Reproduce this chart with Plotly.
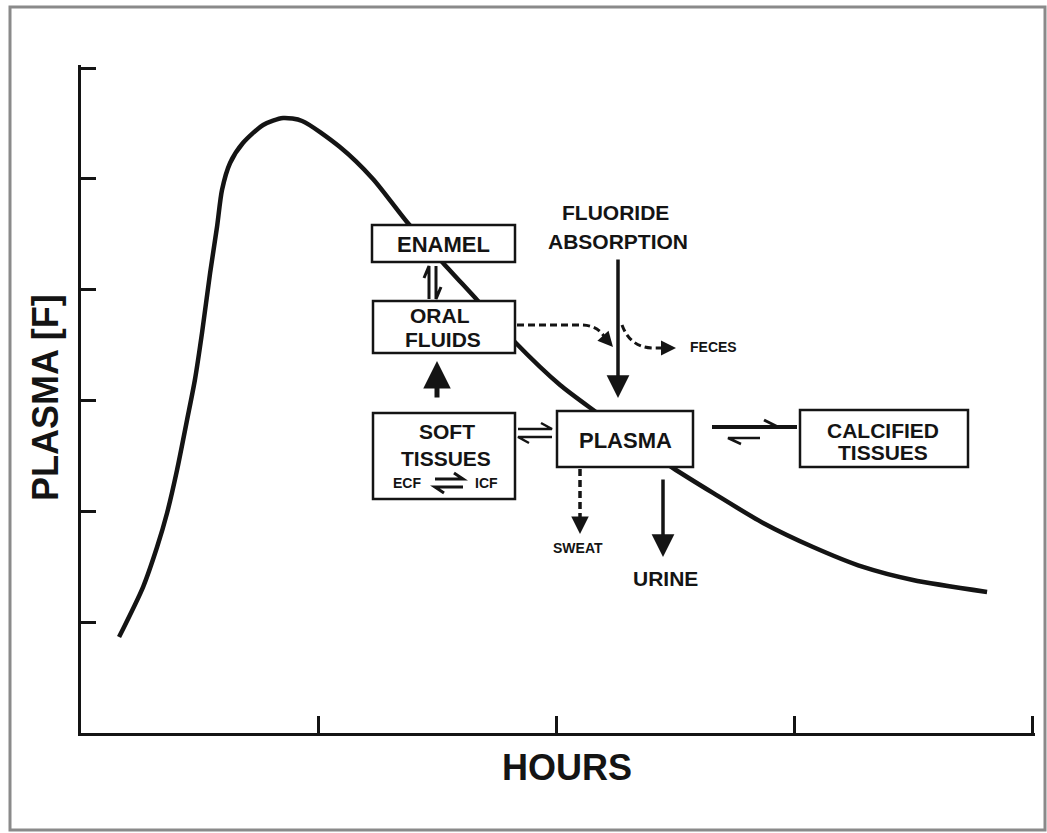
import plotly.graph_objects as go

# ---- data ----
hours = [0.160, 0.261, 0.320, 0.362, 0.404, 0.446, 0.479, 0.509, 0.543, 0.572, 0.593,
         0.627, 0.681, 0.766, 0.850, 0.930, 1.089, 1.228, 1.371, 1.523, 1.666, 1.825,
         2.015, 2.183, 2.351, 2.490, 2.658, 2.869, 3.079, 3.289, 3.499, 3.811]
plasma_f = [0.866, 1.317, 1.678, 1.985, 2.373, 2.824, 3.185, 3.609, 4.150, 4.565, 4.899,
            5.143, 5.323, 5.486, 5.549, 5.522, 5.287, 4.999, 4.611, 4.241, 3.907, 3.528,
            3.140, 2.869, 2.599, 2.391, 2.166, 1.895, 1.678, 1.498, 1.380, 1.272]
x_ticks = [1, 2, 3, 4]
y_ticks = [1, 2, 3, 4, 5, 6]
x_title = "HOURS"
y_title = "PLASMA [F]"

# ---- layout geometry ----
W, H = 1047, 833
L, R, T, B = 81, 1032, 68, 733          # pixel positions of x=0..4, y=0..6
RP, TP = 1035, 65                         # plot-area edges (a little beyond the end ticks)
XMAX, YMAX = 4, 6
X_END = XMAX * (RP - L) / (R - L)
Y_END = YMAX * (B - TP) / (B - T)


def X(px):
    return (px - L) / (R - L) * XMAX


def Y(py):
    return (B - py) / (B - T) * YMAX


def PX(px):
    return (px - L) / (RP - L)


def PY(py):
    return (B - py) / (B - TP)


FONT = "Liberation Sans, Arial, Helvetica, sans-serif"
INK = "#141414"

fig = go.Figure()
fig.add_trace(go.Scatter(x=hours, y=plasma_f, mode="lines",
                         line=dict(color=INK, width=4.5, shape="spline", smoothing=0.7),
                         hoverinfo="skip", showlegend=False))

shapes = []
annotations = []

# outer frame
shapes.append(dict(type="rect", xref="paper", yref="paper",
                   x0=PX(10), x1=PX(1045), y0=PY(830), y1=PY(7),
                   line=dict(color="#8a8a8a", width=3), layer="below"))


def box(x0, y0, x1, y1):
    shapes.append(dict(type="rect", x0=X(x0), x1=X(x1), y0=Y(y1), y1=Y(y0),
                       line=dict(color=INK, width=2.5), fillcolor="white", layer="above"))


def text(t, x, y, size=23, bold=True, angle=0, paper=False):
    annotations.append(dict(text=t,
                            x=PX(x) if paper else X(x), y=PY(y) if paper else Y(y),
                            xref="paper" if paper else "x", yref="paper" if paper else "y",
                            showarrow=False, textangle=angle,
                            font=dict(family=FONT, size=size, color=INK,
                                      weight="bold" if bold else "normal"),
                            xanchor="center", yanchor="middle"))


def arrow(xh, yh, xt, yt, width=3, size=1.2, head=2):
    annotations.append(dict(text="", x=X(xh), y=Y(yh), xref="x", yref="y",
                            ax=xt - xh, ay=yt - yh, showarrow=True,
                            arrowhead=head, arrowwidth=width, arrowsize=size,
                            arrowcolor=INK))


def path(pts, width=3, dash=None):
    d = ""
    for i, (a, b) in enumerate(pts):
        d += ("M " if i == 0 else " L ") + f"{X(a):.5f},{Y(b):.5f}"
    shapes.append(dict(type="path", path=d,
                       line=dict(color=INK, width=width, dash=dash), layer="above"))


def qpath(start, segs, width=3, dash=None):
    d = f"M {X(start[0]):.5f},{Y(start[1]):.5f}"
    for kind, pts in segs:
        d += f" {kind} " + " ".join(f"{X(a):.5f},{Y(b):.5f}" for a, b in pts)
    shapes.append(dict(type="path", path=d,
                       line=dict(color=INK, width=width, dash=dash), layer="above"))


# boxes
box(372, 225, 515, 262)   # enamel
box(373, 301, 515, 353)   # oral fluids
box(373, 413, 515, 499)   # soft tissues
box(557, 411, 693, 467)   # plasma
box(800, 410, 968, 467)   # calcified tissues

# box labels
text("ENAMEL", 443, 244, 22)
text("ORAL", 440, 315, 21)
text("FLUIDS", 443, 339, 21)
text("SOFT", 447, 431, 21)
text("TISSUES", 446, 458, 21)
text("ECF", 407, 483, 14)
text("ICF", 486, 483, 14)
text("PLASMA", 625, 440, 22)
text("CALCIFIED", 883, 430, 21)
text("TISSUES", 883, 452, 21)
text("FLUORIDE", 615, 212, 21)
text("ABSORPTION", 618, 241, 21)
text("FECES", 713, 347, 14)
text("SWEAT", 578, 548, 14)
text("URINE", 665, 578, 21)

# axis titles
text(x_title, 567, 768, 36, paper=True)
text(y_title, 45, 398, 36, angle=-90, paper=True)

# solid arrows
arrow(618, 398, 618, 258, width=3.5, size=1.3)       # absorption -> plasma
arrow(663, 557, 663, 478, width=3.5, size=1.3)       # plasma -> urine
arrow(437, 361, 437, 399, width=5, size=1.1)         # soft tissues -> oral fluids

# equilibrium harpoons
# enamel <-> oral fluids
path([(429, 299), (429, 266), (424, 278)], width=3)
path([(436, 266), (436, 299), (441, 287)], width=3)
# soft tissues <-> plasma
path([(518, 429), (552, 429), (541, 423)], width=2.5)
path([(552, 437), (518, 437), (529, 443)], width=2.5)
# ECF <-> ICF
path([(435, 479), (463, 479), (454, 473)], width=3)
path([(463, 487), (435, 487), (444, 493)], width=3)
# plasma <-> calcified tissues
path([(712, 427), (797, 427)], width=4)
path([(778, 427), (764, 420)], width=3)
path([(760, 438), (728, 438), (741, 444)], width=2.5)

# dashed flows
qpath((517, 325), [("L", [(583, 325)]), ("Q", [(600, 326), (606, 340)])],
      width=3, dash="7px,4px")
arrow(613, 347, 604, 337, width=3, size=1.0)
qpath((622, 325), [("Q", [(630, 347), (652, 348)]), ("L", [(664, 348)])],
      width=3, dash="7px,4px")
arrow(676, 348, 664, 348, width=3, size=1.0)
path([(580, 469), (580, 522)], width=3.5, dash="7px,4px")
arrow(580, 534, 580, 522, width=3.5, size=1.0)

fig.update_layout(
    width=W, height=H,
    margin=dict(l=L, r=W - RP, t=TP, b=H - B),
    paper_bgcolor="white", plot_bgcolor="white",
    shapes=shapes, annotations=annotations,
    xaxis=dict(range=[0, X_END], tickvals=x_ticks, showticklabels=False,
               ticks="inside", ticklen=17, tickwidth=2.5, tickcolor=INK,
               showline=True, linewidth=2.5, linecolor=INK,
               showgrid=False, zeroline=False, fixedrange=True),
    yaxis=dict(range=[0, Y_END], tickvals=y_ticks, showticklabels=False,
               ticks="inside", ticklen=15, tickwidth=2.5, tickcolor=INK,
               showline=True, linewidth=2.5, linecolor=INK,
               showgrid=False, zeroline=False, fixedrange=True),
    showlegend=False,
)

fig.write_html("out.html", config={"displayModeBar": False},
               post_script="document.body.style.margin='0px';document.body.style.overflow='hidden';")
